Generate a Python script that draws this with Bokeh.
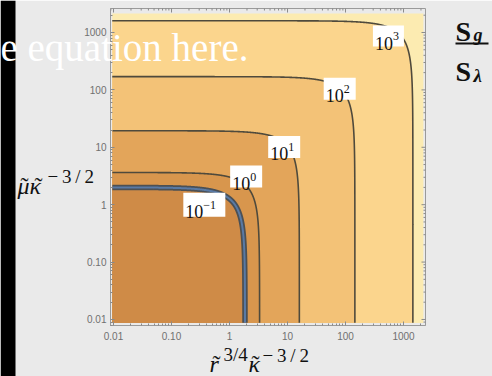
import numpy as np
from bokeh.plotting import figure
from bokeh.layouts import column
from bokeh.models import FixedTicker, Range1d
from bokeh.core.properties import value
from bokeh.embed import file_html
from bokeh.resources import INLINE

# Contour levels of S_g / S_lambda and where each level line meets the plot edges
levels = [0.1, 1, 10, 100, 1000]
level_exponents = ["\u22121", "0", "1", "2", "3"]
level_x_edge = [1.85, 3.3, 16.0, 145.0, 1450.0]    # crossing of the bottom edge
level_y_edge = [2.0, 3.64, 19.4, 170.0, 1600.0]    # crossing of the left edge
band_colors = ["#cf8b47", "#d8964d", "#e3a55a", "#f3c277", "#fbd58d", "#fcebb1"]

tick_values = [0.01, 0.1, 1, 10, 100, 1000]
tick_labels = ["0.01", "0.10", "1", "10", "100", "1000"]

x_domain = (0.0095, 2200.0)
y_domain = (0.0087, 2150.0)

W, H = 492, 376
CORNER = 1.3          # superellipse exponent that rounds each level's knee
SERIF = "Liberation Serif"
SANS = "Liberation Sans"
BG = "#eaeaea"
TICK = "#8a8a8a"
INK = "#111111"

p = figure(width=W, height=H, x_axis_type="log", y_axis_type="log",
           x_range=Range1d(10 ** -2.052, 10 ** 3.379),
           y_range=Range1d(10 ** -2.105, 10 ** 3.418),
           output_backend="svg", toolbar_location=None,
           min_border_left=110, min_border_right=67,
           min_border_top=8, min_border_bottom=51,
           background_fill_color=BG, border_fill_color=BG)
p.outline_line_color = "#9a9a9a"
p.grid.visible = False


def level_curve(xe, ye, n=4000):
    w = np.linspace(-8, 8, n)
    t = 10.0 ** (CORNER * w)
    x = xe * (1.0 / (1.0 + t)) ** (1.0 / CORNER)
    y = ye * (t / (1.0 + t)) ** (1.0 / CORNER)
    return x, y


# filled bands, lightest (above the top level) first
p.quad(left=x_domain[0], right=x_domain[1], bottom=y_domain[0], top=y_domain[1],
       fill_color=band_colors[-1], line_color=None)
for k in range(len(levels) - 1, -1, -1):
    x, y = level_curve(level_x_edge[k], level_y_edge[k])
    px = np.concatenate([[x_domain[0]], np.clip(x, x_domain[0], None)])
    py = np.concatenate([[y_domain[0]], np.clip(y, y_domain[0], None)])
    p.patch(px, py, fill_color=band_colors[k], line_color=None)

# level lines
for k in range(len(levels)):
    x, y = level_curve(level_x_edge[k], level_y_edge[k])
    m = (x >= x_domain[0]) & (y >= y_domain[0])
    if k == 0:
        p.line(x[m], y[m], line_color="#4b5055", line_width=5.5)
        p.line(x[m], y[m], line_color="#5f8cc8", line_width=2, line_alpha=0.7)
    else:
        p.line(x[m], y[m], line_color="#4f4a3c", line_width=1.6)

# level labels sit near each knee
label_shift = [(-0.47, -0.07), (0.0, 0.16), (-0.03, -0.05), (-0.03, 0.02), (-0.19, -0.035)]
label_box_w = [42, 32, 32, 32, 31]
label_box_h = [24, 22, 22, 22, 21]
knee = 2.0 ** (-1.0 / CORNER)
lx = [level_x_edge[k] * knee * 10 ** label_shift[k][0] for k in range(len(levels))]
ly = [level_y_edge[k] * knee * 10 ** label_shift[k][1] for k in range(len(levels))]
p.rect(lx, ly, width=label_box_w, height=label_box_h, width_units="screen",
       height_units="screen", fill_color="white", line_color=None)
p.text(lx, ly, text=["10"] * len(levels), x_offset=[-w / 2 + 2 for w in label_box_w],
       y_offset=7, text_align="left", text_baseline="alphabetic",
       text_font=value(SERIF), text_font_size="18px", text_color=INK)
p.text(lx, ly, text=level_exponents, x_offset=[-w / 2 + 20 for w in label_box_w],
       y_offset=0, text_align="left", text_baseline="alphabetic",
       text_font=value(SERIF), text_font_size="12px", text_color=INK)

# frame ticks: labelled axes on the left and bottom, pointing inward
minor = [m * 10.0 ** d for d in range(-3, 4) for m in range(2, 10)]
ticker = FixedTicker(ticks=tick_values, minor_ticks=minor)
overrides = {v: s for v, s in zip(tick_values, tick_labels)}
for ax in p.axis:
    ax.ticker = ticker
    ax.major_label_overrides = overrides
    ax.axis_line_color = "#9a9a9a"
    ax.major_tick_line_color = TICK
    ax.minor_tick_line_color = TICK
    ax.major_tick_in = 4
    ax.major_tick_out = 0
    ax.minor_tick_in = 2
    ax.minor_tick_out = 0
    ax.major_label_text_font = SANS
    ax.major_label_text_font_size = "10px"
    ax.major_label_text_color = "#707070"
p.xaxis[0].major_label_standoff = 6
p.yaxis[0].major_label_standoff = 4

# matching unlabelled ticks along the top and right edges (half of each dash is clipped)
y_top = p.y_range.end
x_right = p.x_range.end
minor_in = [v for v in minor if 0.009 < v < 2400]
p.scatter(tick_values, [y_top] * len(tick_values), marker="dash", angle=np.pi / 2,
          size=8, line_color=TICK)
p.scatter(minor_in, [y_top] * len(minor_in), marker="dash", angle=np.pi / 2,
          size=4, line_color=TICK)
p.scatter([x_right] * len(tick_values), tick_values, marker="dash", size=8, line_color=TICK)
p.scatter([x_right] * len(minor_in), minor_in, marker="dash", size=4, line_color=TICK)

# transparent sheet over the whole page, in pixel units from the top-left corner,
# for the titles and the slide elements that lie outside the plot frame
ov = figure(width=W, height=H, x_range=Range1d(0, W), y_range=Range1d(H, 0),
            output_backend="svg", toolbar_location=None, min_border=0,
            x_axis_location=None, y_axis_location=None, margin=(-H, 0, 0, 0))
ov.grid.visible = False
ov.outline_line_color = None
ov.background_fill_alpha = 0
ov.border_fill_alpha = 0

# slide edge on the left
ov.quad(left=0, right=15, top=0, bottom=H, fill_color="black", line_color=None)


def text_at(x, y, s, size, style="normal", color=INK, align="left"):
    ov.text([x], [y], text=[s], text_font=value(SERIF), text_font_size=size,
            text_font_style=style, text_color=color, text_align=align,
            text_baseline="alphabetic")


TILDE = "\u02dc"
# x-axis title: r~^(3/4) kappa~^(-3/2)
text_at(209, 363, "r", "24px", "italic")
text_at(216, 363, TILDE, "24px", align="center")
text_at(223, 354, "3/4", "19px")
text_at(248, 363, "\u03ba", "24px", "italic")
text_at(255, 363, TILDE, "24px", align="center")
text_at(262, 355, "\u2212\u20093\u2009/\u20092", "19px")

# y-axis title: mu~ kappa~^(-3/2)
text_at(17, 185, "\u03bc\u03ba", "24px", "italic")
text_at(24, 185, TILDE, "24px", align="center")
text_at(38, 185, TILDE, "24px", align="center")
text_at(47, 176, "\u2212\u20093\u2009/\u20092", "19px")

# colour-bar style title: S_g over S_lambda
text_at(455, 31, "S", "28px", "bold")
text_at(473, 34, "g", "18px", "bold italic")
ov.line([455, 488], [43, 43], line_color=INK, line_width=1.8)
text_at(455, 71, "S", "28px", "bold")
text_at(473, 75, "\u03bb", "19px", "bold italic")

# caption text running across the top of the slide
text_at(0, 47, "e equation here.", "39px", color="white")

# keep each figure's frame independent of the other one
try:
    p.frame_align = False
    ov.frame_align = False
    root = column(p, ov)
except AttributeError:
    root = [p, ov]

open("out.html", "w").write(file_html(root, INLINE))
